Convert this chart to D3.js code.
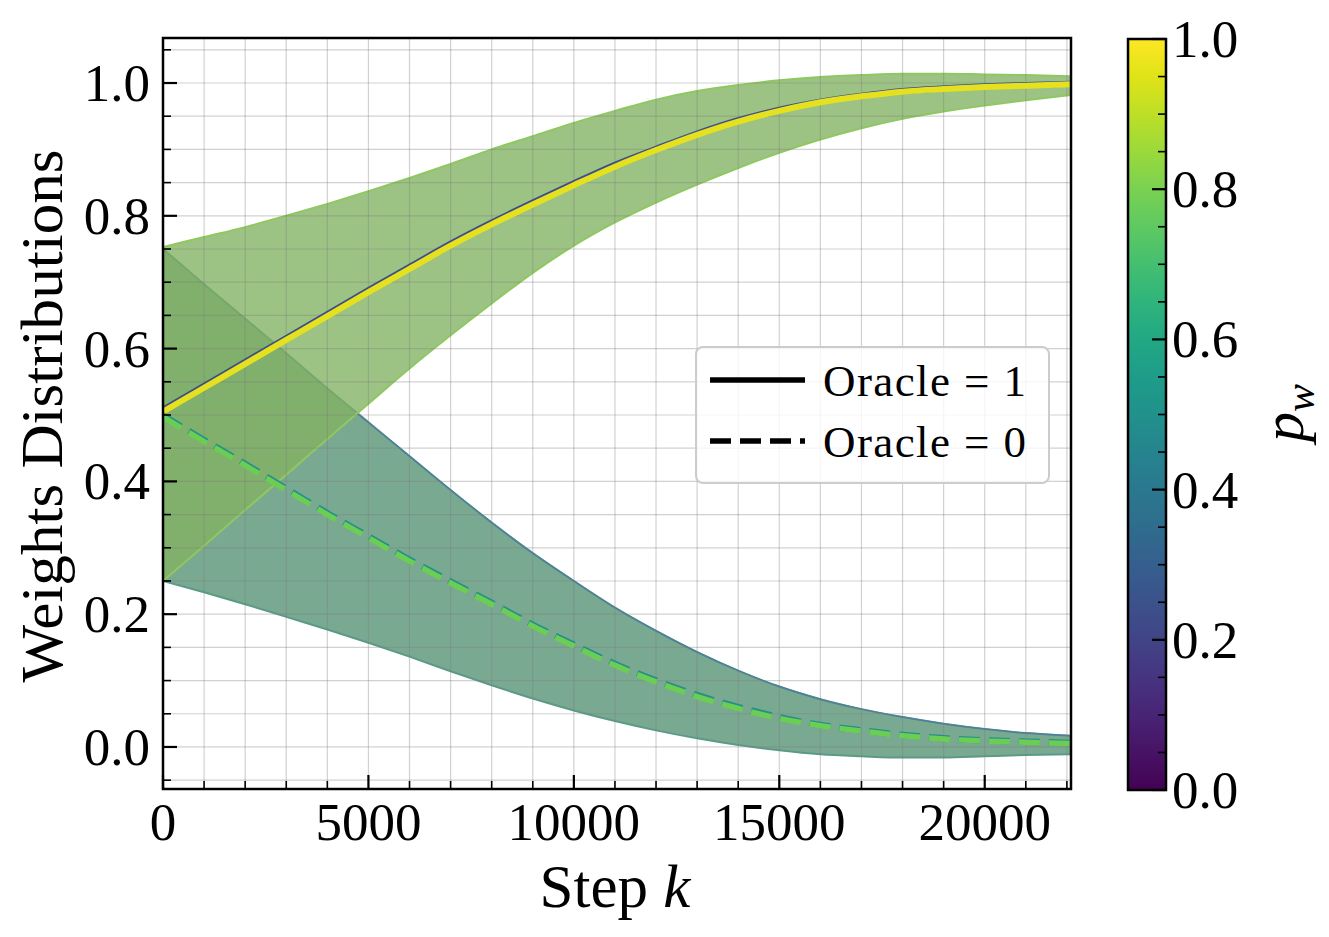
<!DOCTYPE html>
<html lang="en">
<head>
    <meta charset="UTF-8">
    <title>Weights Distributions</title>
    <script src="https://cdn.jsdelivr.net/npm/d3@7"></script>
</head>
<style>
    body{
        margin:0;
        background:#fff;
    }
    svg text{
        font-family:"Liberation Serif","DejaVu Serif",serif;
        fill:#000;
    }
</style>
<body>
<div id="chart"></div>
<script>
    // data
    var steps = [0,1000,2000,3000,4000,5000,6000,7000,8000,9000,10000,11000,
        12000,13000,14000,15000,16000,17000,18000,19000,20000,21000,22100];

    // Oracle = 1, p_w high (yellow) and p_w low (dark, drawn underneath)
    var oracle1Mean = [0.505,0.541,0.577,0.613,0.649,0.685,0.72,0.755,0.787,0.817,0.846,0.874,
        0.899,0.922,0.942,0.958,0.971,0.98,0.987,0.991,0.994,0.996,0.998];
    var oracle1MeanLow = [0.508,0.544,0.580,0.616,0.652,0.688,0.723,0.758,0.790,0.820,0.849,0.877,
        0.901,0.924,0.944,0.960,0.972,0.981,0.988,0.992,0.995,0.997,0.999];
    var oracle1Upper = [0.753,0.768,0.783,0.8,0.818,0.837,0.857,0.878,0.9,0.92,0.94,0.958,
        0.975,0.988,0.997,1.004,1.009,1.012,1.014,1.014,1.013,1.012,1.01];
    var oracle1Lower = [0.25,0.303,0.357,0.41,0.464,0.517,0.57,0.62,0.668,0.714,0.755,0.79,
        0.82,0.847,0.872,0.895,0.915,0.932,0.946,0.957,0.966,0.974,0.982];

    // Oracle = 0
    var oracle0Mean = [0.497,0.46,0.424,0.387,0.35,0.315,0.28,0.247,0.215,0.182,0.152,0.123,
        0.098,0.076,0.058,0.043,0.032,0.024,0.017,0.012,0.009,0.007,0.005];
    var oracle0MeanLow = [0.499,0.462,0.426,0.389,0.352,0.317,0.282,0.249,0.217,0.184,0.154,0.125,
        0.100,0.078,0.060,0.045,0.033,0.025,0.018,0.013,0.010,0.008,0.006];
    var oracle0Upper = [0.75,0.697,0.645,0.593,0.54,0.489,0.438,0.387,0.338,0.292,0.25,0.21,
        0.175,0.143,0.115,0.091,0.072,0.057,0.045,0.035,0.027,0.021,0.017];
    var oracle0Lower = [0.25,0.233,0.215,0.196,0.177,0.157,0.136,0.114,0.093,0.073,0.055,0.039,
        0.025,0.013,0.003,-0.005,-0.011,-0.014,-0.016,-0.016,-0.014,-0.012,-0.011];

    var xTicks = [0,5000,10000,15000,20000];
    var yTicks = [0.0,0.2,0.4,0.6,0.8,1.0];
    var cbTicks = [0.0,0.2,0.4,0.6,0.8,1.0];
    var legendLabels = ["Oracle = 1","Oracle = 0"];

    (function(){
        var W = 1329, H = 937;
        var pLeft = 163, pRight = 1071, pTop = 38, pBottom = 789;

        var svg = d3.select("#chart").append("svg")
            .attr("width", W)
            .attr("height", H);

        var x = d3.scaleLinear().domain([0,22100]).range([pLeft,pRight]);
        var y = d3.scaleLinear().domain([-0.0633,1.0678]).range([pBottom,pTop]);

        var defs = svg.append("defs");
        defs.append("clipPath").attr("id","plotclip")
            .append("rect")
            .attr("x",pLeft).attr("y",pTop)
            .attr("width",pRight-pLeft).attr("height",pBottom-pTop);

        var plot = svg.append("g").attr("clip-path","url(#plotclip)");

        function band(lo, hi){
            return d3.area()
                .x(function(d,i){ return x(steps[i]); })
                .y0(function(d,i){ return y(lo[i]); })
                .y1(function(d,i){ return y(hi[i]); })
                .curve(d3.curveMonotoneX)(steps);
        }
        function line(vals){
            return d3.line()
                .x(function(d,i){ return x(steps[i]); })
                .y(function(d,i){ return y(vals[i]); })
                .curve(d3.curveMonotoneX)(steps);
        }

        // bands (oracle 0 below, oracle 1 on top)
        plot.append("path")
            .attr("d", band(oracle0Lower, oracle0Upper))
            .style("fill","#559172")
            .style("fill-opacity",0.78)
            .style("stroke","#5c9a88")
            .style("stroke-width",2);
        plot.append("path")
            .attr("d", line(oracle0Upper))
            .style("fill","none")
            .style("stroke","#4f7f9a")
            .style("stroke-width",1.5);
        plot.append("path")
            .attr("d", band(oracle1Lower, oracle1Upper))
            .style("fill","#81b261")
            .style("fill-opacity",0.78)
            .style("stroke","#8fc860")
            .style("stroke-width",2);

        // grid, minor and major
        var xGrid = d3.range(0,22001,1000);
        var yGrid = d3.range(-0.05,1.0501,0.05);
        plot.selectAll(".gx").data(xGrid).enter().append("line")
            .attr("x1",function(d){ return x(d); }).attr("x2",function(d){ return x(d); })
            .attr("y1",pTop).attr("y2",pBottom)
            .style("stroke","#7a7a7a").style("stroke-opacity",0.35).style("stroke-width",1.2);
        plot.selectAll(".gy").data(yGrid).enter().append("line")
            .attr("x1",pLeft).attr("x2",pRight)
            .attr("y1",function(d){ return y(d); }).attr("y2",function(d){ return y(d); })
            .style("stroke","#7a7a7a").style("stroke-opacity",0.35).style("stroke-width",1.2);

        // mean lines
        plot.append("path").attr("d", line(oracle1MeanLow))
            .style("fill","none").style("stroke","#3e4c8a").style("stroke-width",6);
        plot.append("path").attr("d", line(oracle1Mean))
            .style("fill","none").style("stroke","#e6e11f").style("stroke-width",6);
        plot.append("path").attr("d", line(oracle0MeanLow))
            .style("fill","none").style("stroke","#22918a").style("stroke-width",6.5)
            .style("stroke-dasharray","21,9");
        plot.append("path").attr("d", line(oracle0Mean))
            .style("fill","none").style("stroke","#6ccd55").style("stroke-width",5.5)
            .style("stroke-dasharray","21,9");

        // legend
        var lg = svg.append("g");
        lg.append("rect")
            .attr("x",696).attr("y",347).attr("width",353).attr("height",136)
            .attr("rx",7)
            .style("fill","#fff").style("fill-opacity",0.8)
            .style("stroke","#cccccc").style("stroke-width",2);
        legendLabels.forEach(function(lab,i){
            var ly = 380 + i*61;
            lg.append("line")
                .attr("x1",710).attr("x2",805).attr("y1",ly).attr("y2",ly)
                .style("stroke","#000").style("stroke-width",5.5)
                .style("stroke-dasharray", i==1 ? "21,9" : null);
            lg.append("text")
                .attr("x",823).attr("y",ly).attr("dy","0.35em")
                .attr("textLength",203).attr("lengthAdjust","spacing")
                .style("font-size","45px")
                .text(lab);
        });

        // axes: ticks inward
        var ax = svg.append("g");
        var xMinor = d3.range(0,22001,1000).filter(function(d){ return xTicks.indexOf(d)<0; });
        var yMinor = yGrid.filter(function(d){ return Math.abs(Math.round(d*5)-d*5)>1e-6; });

        ax.selectAll(".xt").data(xTicks).enter().append("line")
            .attr("x1",function(d){ return x(d); }).attr("x2",function(d){ return x(d); })
            .attr("y1",pBottom).attr("y2",pBottom-14)
            .style("stroke","#000").style("stroke-width",2.2);
        ax.selectAll(".xm").data(xMinor).enter().append("line")
            .attr("x1",function(d){ return x(d); }).attr("x2",function(d){ return x(d); })
            .attr("y1",pBottom).attr("y2",pBottom-8)
            .style("stroke","#000").style("stroke-width",1.6);
        ax.selectAll(".yt").data(yTicks).enter().append("line")
            .attr("x1",pLeft).attr("x2",pLeft+14)
            .attr("y1",function(d){ return y(d); }).attr("y2",function(d){ return y(d); })
            .style("stroke","#000").style("stroke-width",2.2);
        ax.selectAll(".ym").data(yMinor).enter().append("line")
            .attr("x1",pLeft).attr("x2",pLeft+8)
            .attr("y1",function(d){ return y(d); }).attr("y2",function(d){ return y(d); })
            .style("stroke","#000").style("stroke-width",1.6);

        ax.selectAll(".xl").data(xTicks).enter().append("text")
            .attr("x",function(d){ return x(d); })
            .attr("y",840)
            .attr("text-anchor","middle")
            .style("font-size","53px")
            .text(function(d){ return d; });
        ax.selectAll(".yl").data(yTicks).enter().append("text")
            .attr("x",150)
            .attr("y",function(d){ return y(d); })
            .attr("dy","0.34em")
            .attr("text-anchor","end")
            .style("font-size","53px")
            .text(function(d){ return d.toFixed(1); });

        svg.append("rect")
            .attr("x",pLeft).attr("y",pTop).attr("width",pRight-pLeft).attr("height",pBottom-pTop)
            .style("fill","none").style("stroke","#000").style("stroke-width",2.5);

        // axis titles
        var xt = svg.append("text")
            .attr("x",615).attr("y",907)
            .attr("text-anchor","middle")
            .style("font-size","61px");
        xt.append("tspan").text("Step ");
        xt.append("tspan").style("font-style","italic").text("k");

        svg.append("text")
            .attr("transform","translate(62,416) rotate(-90)")
            .attr("text-anchor","middle")
            .attr("textLength",533).attr("lengthAdjust","spacingAndGlyphs")
            .style("font-size","60px")
            .text("Weights Distributions");

        // colorbar
        var cbL = 1128, cbR = 1166;
        var cy = d3.scaleLinear().domain([0,1]).range([790,39]);
        var grad = defs.append("linearGradient")
            .attr("id","viridis").attr("x1","0%").attr("y1","100%").attr("x2","0%").attr("y2","0%");
        d3.range(0,1.001,0.05).forEach(function(t){
            grad.append("stop").attr("offset",(t*100)+"%").attr("stop-color",d3.interpolateViridis(t));
        });
        svg.append("rect")
            .attr("x",cbL).attr("y",cy(1)).attr("width",cbR-cbL).attr("height",cy(0)-cy(1))
            .style("fill","url(#viridis)");
        var cbMinor = d3.range(0,1.0001,0.05).filter(function(d){ return Math.abs(Math.round(d*5)-d*5)>1e-6; });
        svg.selectAll(".ct").data(cbTicks).enter().append("line")
            .attr("x1",cbR).attr("x2",cbR-14)
            .attr("y1",function(d){ return cy(d); }).attr("y2",function(d){ return cy(d); })
            .style("stroke","#000").style("stroke-width",2.2);
        svg.selectAll(".cm").data(cbMinor).enter().append("line")
            .attr("x1",cbR).attr("x2",cbR-8)
            .attr("y1",function(d){ return cy(d); }).attr("y2",function(d){ return cy(d); })
            .style("stroke","#000").style("stroke-width",1.6);
        svg.append("rect")
            .attr("x",cbL).attr("y",cy(1)).attr("width",cbR-cbL).attr("height",cy(0)-cy(1))
            .style("fill","none").style("stroke","#000").style("stroke-width",2.5);
        svg.selectAll(".cl").data(cbTicks).enter().append("text")
            .attr("x",1172)
            .attr("y",function(d){ return cy(d); })
            .attr("dy","0.34em")
            .style("font-size","53px")
            .text(function(d){ return d.toFixed(1); });

        var pw = svg.append("text")
            .attr("transform","translate(1303,413) rotate(-90)")
            .attr("text-anchor","middle")
            .style("font-size","60px")
            .style("font-style","italic");
        pw.append("tspan").text("p");
        pw.append("tspan").attr("dy","0.25em").style("font-size","42px").text("w");
    }());
</script>
</body>
</html>
